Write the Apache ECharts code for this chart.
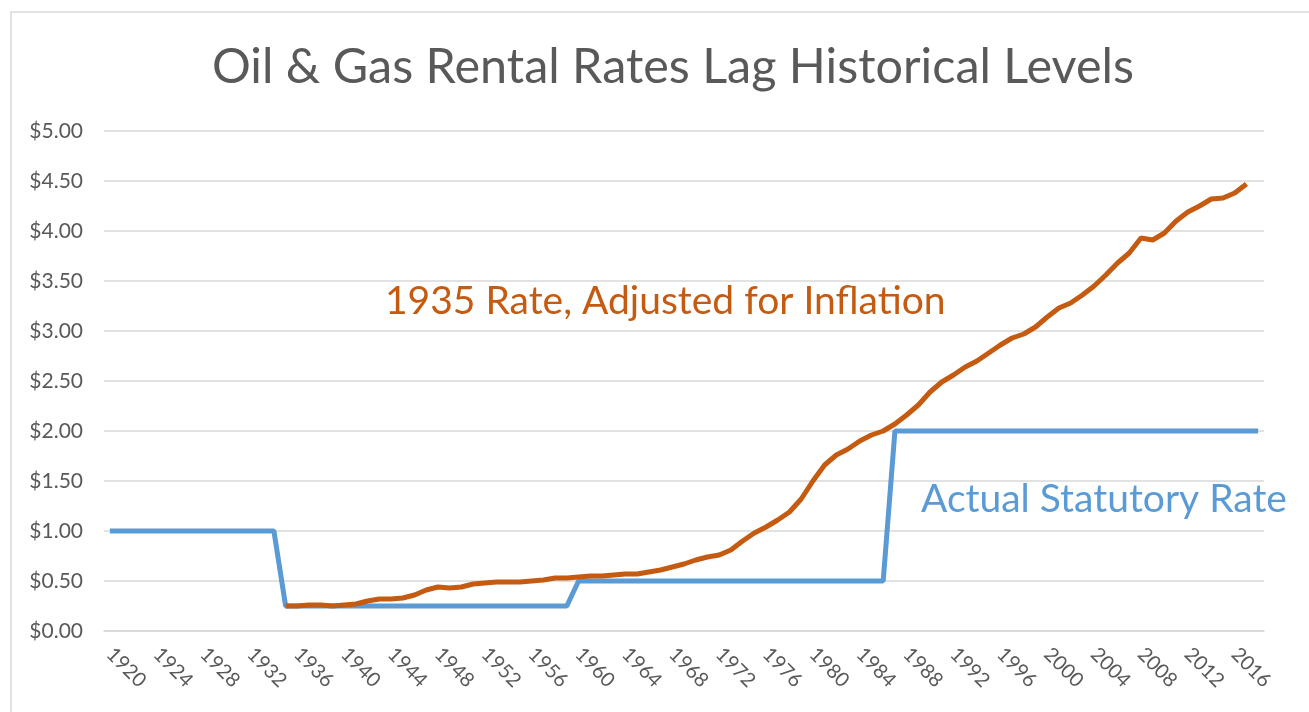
<!DOCTYPE html>
<html>
<head>
<meta charset="utf-8">
<title>Oil & Gas Rental Rates Lag Historical Levels</title>
<script src="https://cdn.jsdelivr.net/npm/echarts@6/dist/echarts.min.js"></script>
<style>
  html, body { margin: 0; padding: 0; background: #fff; }
  #chart { width: 1309px; height: 712px; }
</style>
</head>
<body>
<div id="chart"></div>
<script>
// years 1920 - 2018
const years = []
for (let y = 1920; y <= 2018; y++) years.push(String(y))

// actual statutory rental rate, $ per acre
const statutoryRate = [
  1.00, 1.00, 1.00, 1.00, 1.00, 1.00, 1.00, 1.00, 1.00, 1.00, // 1920-1929
  1.00, 1.00, 1.00, 1.00, 1.00, 0.25, 0.25, 0.25, 0.25, 0.25, // 1930-1939
  0.25, 0.25, 0.25, 0.25, 0.25, 0.25, 0.25, 0.25, 0.25, 0.25, // 1940-1949
  0.25, 0.25, 0.25, 0.25, 0.25, 0.25, 0.25, 0.25, 0.25, 0.25, // 1950-1959
  0.50, 0.50, 0.50, 0.50, 0.50, 0.50, 0.50, 0.50, 0.50, 0.50, // 1960-1969
  0.50, 0.50, 0.50, 0.50, 0.50, 0.50, 0.50, 0.50, 0.50, 0.50, // 1970-1979
  0.50, 0.50, 0.50, 0.50, 0.50, 0.50, 0.50, 2.00, 2.00, 2.00, // 1980-1989
  2.00, 2.00, 2.00, 2.00, 2.00, 2.00, 2.00, 2.00, 2.00, 2.00, // 1990-1999
  2.00, 2.00, 2.00, 2.00, 2.00, 2.00, 2.00, 2.00, 2.00, 2.00, // 2000-2009
  2.00, 2.00, 2.00, 2.00, 2.00, 2.00, 2.00, 2.00, 2.00        // 2010-2018
]

// 1935 rate adjusted for inflation (starts 1935, ends 2017)
const adjustedRate = [
  null, null, null, null, null, null, null, null, null, null, // 1920-1929
  null, null, null, null, null, 0.25, 0.25, 0.26, 0.26, 0.25, // 1930-1939
  0.26, 0.27, 0.30, 0.32, 0.32, 0.33, 0.36, 0.41, 0.44, 0.43, // 1940-1949
  0.44, 0.47, 0.48, 0.49, 0.49, 0.49, 0.50, 0.51, 0.53, 0.53, // 1950-1959
  0.54, 0.55, 0.55, 0.56, 0.57, 0.57, 0.59, 0.61, 0.64, 0.67, // 1960-1969
  0.71, 0.74, 0.76, 0.81, 0.90, 0.98, 1.04, 1.11, 1.19, 1.32, // 1970-1979
  1.50, 1.66, 1.76, 1.82, 1.90, 1.96, 2.00, 2.07, 2.16, 2.26, // 1980-1989
  2.39, 2.49, 2.56, 2.64, 2.70, 2.78, 2.86, 2.93, 2.97, 3.04, // 1990-1999
  3.14, 3.23, 3.28, 3.36, 3.45, 3.56, 3.68, 3.78, 3.93, 3.91, // 2000-2009
  3.98, 4.10, 4.19, 4.25, 4.32, 4.33, 4.38, 4.47, null        // 2010-2018
]

const yTicks = ['$0.00', '$0.50', '$1.00', '$1.50', '$2.00', '$2.50', '$3.00', '$3.50', '$4.00', '$4.50', '$5.00']

const font = 'Lato, "Open Sans", sans-serif'
const grey = '#595959'

const chart = echarts.init(document.getElementById('chart'))
chart.setOption({
  animation: false,
  title: {
    text: 'Oil & Gas Rental Rates Lag Historical Levels',
    left: 207,
    top: 38,
    textStyle: { fontFamily: font, fontSize: 48.5, fontWeight: 'normal', color: grey }
  },
  grid: { left: 104, right: 45, top: 131, bottom: 81, containLabel: false },
  xAxis: {
    type: 'category',
    data: years,
    boundaryGap: true,
    axisLine: { lineStyle: { color: '#d9d9d9', width: 1.5 } },
    axisTick: { inside: true, length: 7, interval: 0, lineStyle: { color: '#d9d9d9', width: 1.5 } },
    axisLabel: {
      interval: 3,
      rotate: -45,
      margin: 20,
      fontFamily: font,
      fontSize: 20,
      color: grey
    }
  },
  yAxis: {
    type: 'value',
    min: 0,
    max: 5,
    interval: 0.5,
    axisLine: { show: false },
    axisTick: { show: false },
    splitLine: { lineStyle: { color: '#d9d9d9', width: 1.5 } },
    axisLabel: {
      margin: 21,
      fontFamily: font,
      fontSize: 21,
      color: grey,
      formatter: (v) => yTicks[Math.round(v / 0.5)]
    }
  },
  graphic: [
    {
      type: 'rect',
      shape: { x: 11, y: 12, width: 1320, height: 720 },
      style: { fill: 'none', stroke: '#d9d9d9', lineWidth: 1.5 },
      silent: true
    },
    {
      type: 'text',
      left: 385,
      top: 282,
      style: { text: '1935 Rate, Adjusted for Inflation', fill: '#c55a11', fontFamily: font, fontSize: 39 }
    },
    {
      type: 'text',
      left: 921,
      top: 480,
      style: { text: 'Actual Statutory Rate', fill: '#5b9bd5', fontFamily: font, fontSize: 39 }
    }
  ],
  series: [
    {
      name: 'Actual Statutory Rate',
      type: 'line',
      data: statutoryRate,
      showSymbol: false,
      lineStyle: { color: '#5b9bd5', width: 5 },
      itemStyle: { color: '#5b9bd5' },
      z: 2
    },
    {
      name: '1935 Rate, Adjusted for Inflation',
      type: 'line',
      data: adjustedRate,
      showSymbol: false,
      connectNulls: false,
      lineStyle: { color: '#c55a11', width: 5 },
      itemStyle: { color: '#c55a11' },
      z: 3
    }
  ]
})
</script>
</body>
</html>
